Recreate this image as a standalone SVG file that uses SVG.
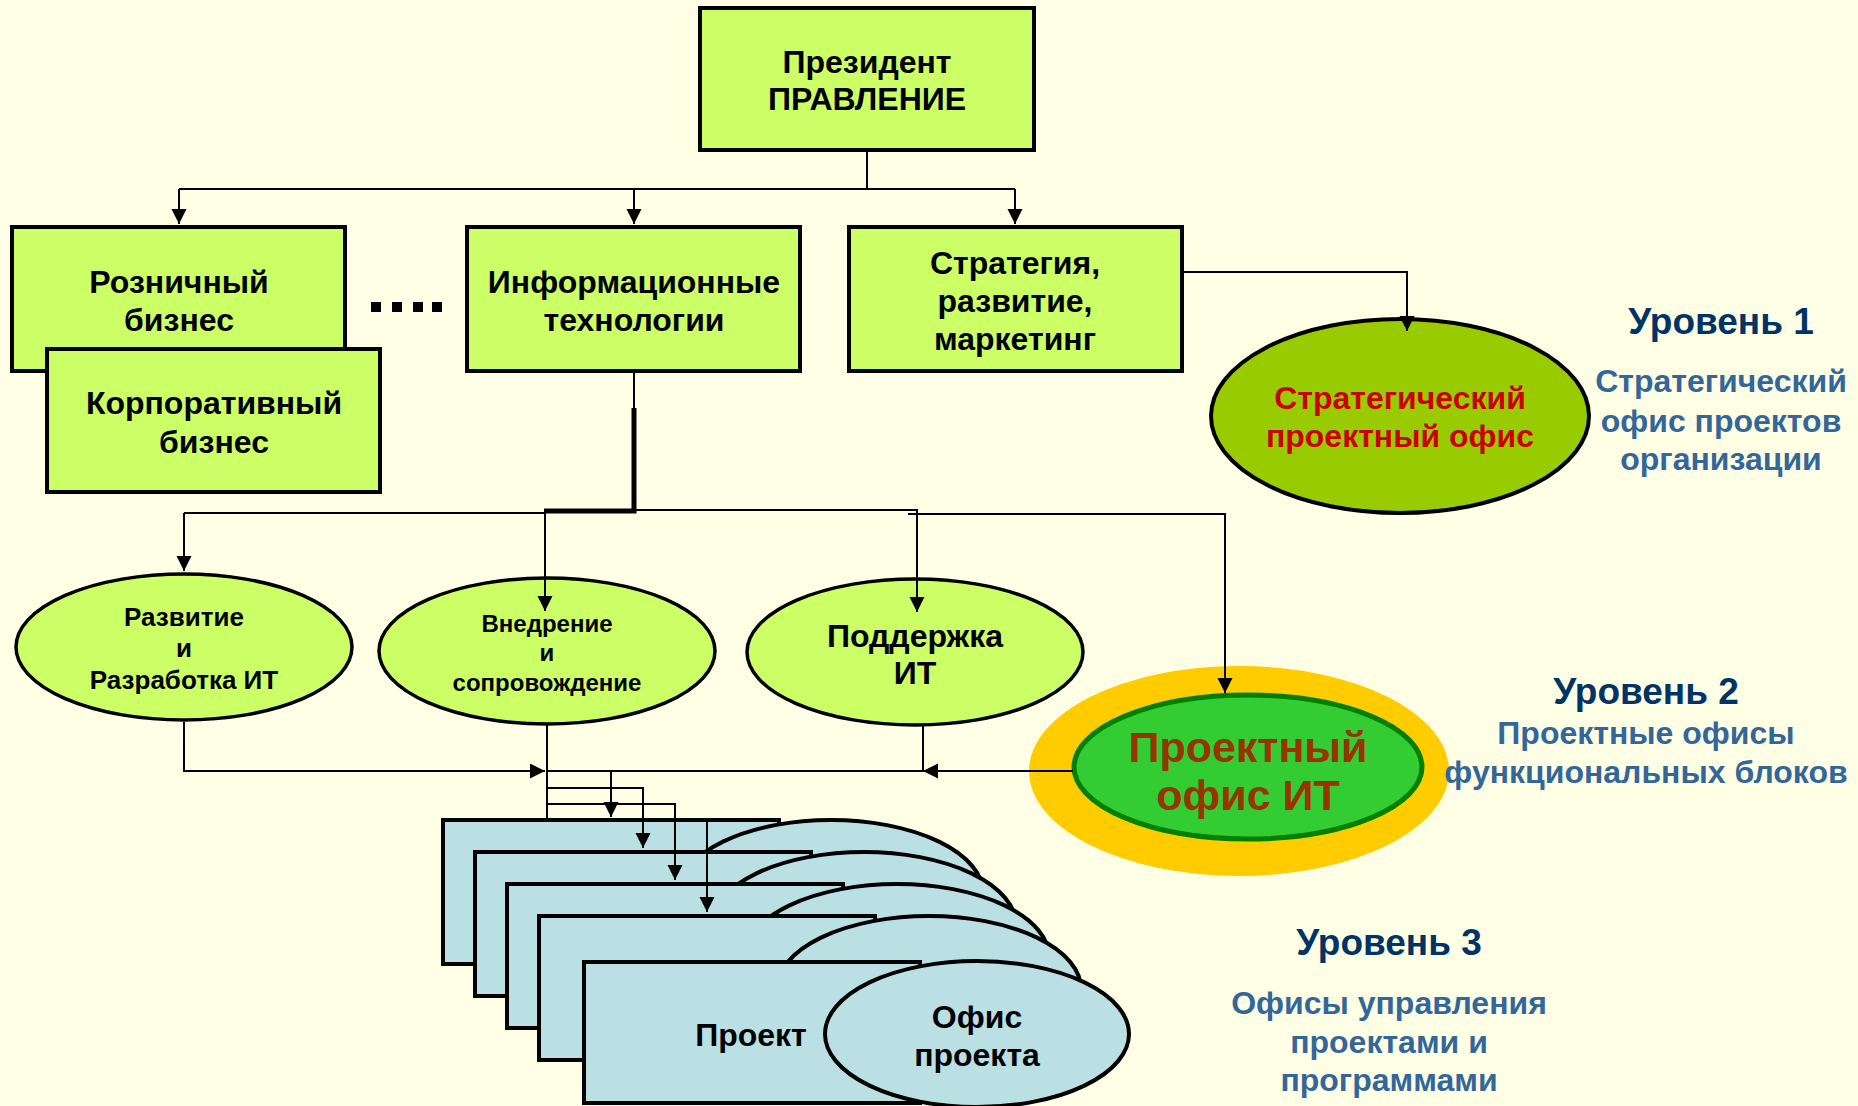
<svg xmlns="http://www.w3.org/2000/svg" width="1858" height="1106" viewBox="0 0 1858 1106">
<defs>
<style>
text{font-family:"Liberation Sans",Arial,sans-serif;font-weight:bold;text-anchor:middle}
.box{fill:#ccff66;stroke:#000;stroke-width:4}
.ell{fill:#ccff66;stroke:#000;stroke-width:3.5}
.card{fill:#bbe0e3;stroke:#000;stroke-width:4}
.bt{font-size:32px;fill:#000}
.lv{font-size:37px;fill:#003366}
.ds{font-size:32px;fill:#336699}
.c{fill:none;stroke:#000;stroke-width:2}
.ca{fill:none;stroke:#000;stroke-width:2;marker-end:url(#ah)}
</style>
<marker id="ah" markerUnits="userSpaceOnUse" markerWidth="16" markerHeight="16" refX="15" refY="7.5" orient="auto">
<path d="M0,0 L15,7.5 L0,15 z" fill="#000"/>
</marker>
</defs>
<rect x="0" y="0" width="1858" height="1106" fill="#ffffe6"/>

<g id="president">
<rect class="box" x="700" y="8" width="334" height="142"/>
<text class="bt" x="867" y="73">Президент</text>
<text class="bt" x="867" y="110">ПРАВЛЕНИЕ</text>
</g>

<g id="retail">
<rect class="box" x="12" y="227" width="333" height="144"/>
<text class="bt" x="179" y="293">Розничный</text>
<text class="bt" x="179" y="331">бизнес</text>
</g>

<g id="corporate">
<rect class="box" x="47" y="349" width="333" height="143"/>
<text class="bt" x="214" y="414">Корпоративный</text>
<text class="bt" x="214" y="453">бизнес</text>
</g>

<g id="dots" fill="#000">
<rect x="371" y="302" width="10" height="10"/>
<rect x="392" y="302" width="10" height="10"/>
<rect x="413" y="302" width="10" height="10"/>
<rect x="432" y="302" width="10" height="10"/>
</g>

<g id="it">
<rect class="box" x="467" y="227" width="333" height="144"/>
<text class="bt" x="634" y="293">Информационные</text>
<text class="bt" x="634" y="331">технологии</text>
</g>

<g id="strategy">
<rect class="box" x="849" y="227" width="333" height="144"/>
<text class="bt" x="1015" y="274">Стратегия,</text>
<text class="bt" x="1015" y="312">развитие,</text>
<text class="bt" x="1015" y="350">маркетинг</text>
</g>

<g id="strategic-office">
<ellipse cx="1400" cy="416" rx="189" ry="97" fill="#99cc00" stroke="#000" stroke-width="4"/>
<text x="1400" y="409" font-size="32" fill="#cc0000">Стратегический</text>
<text x="1400" y="447" font-size="32" fill="#cc0000">проектный офис</text>
</g>

<g id="dev">
<ellipse class="ell" cx="184" cy="647" rx="168" ry="73"/>
<text x="184" y="626" font-size="26">Развитие</text>
<text x="184" y="657" font-size="26">и</text>
<text x="184" y="689" font-size="26">Разработка ИТ</text>
</g>

<g id="impl">
<ellipse class="ell" cx="547" cy="651" rx="168" ry="73"/>
<text x="547" y="632" font-size="24">Внедрение</text>
<text x="547" y="661" font-size="24">и</text>
<text x="547" y="691" font-size="24">сопровождение</text>
</g>

<g id="support">
<ellipse class="ell" cx="915" cy="652" rx="168" ry="73"/>
<text x="915" y="647" font-size="32">Поддержка</text>
<text x="915" y="684" font-size="32">ИТ</text>
</g>

<g id="it-office">
<ellipse cx="1239" cy="771" rx="210" ry="105" fill="#ffcc00"/>
<ellipse cx="1248" cy="767" rx="174" ry="72" fill="#33cc33" stroke="#008000" stroke-width="5"/>
<text x="1248" y="762" font-size="43" fill="#993300">Проектный</text>
<text x="1248" y="810" font-size="43" fill="#993300">офис ИТ</text>
</g>

<g id="projects">
<rect class="card" x="443" y="820" width="336" height="144"/>
<ellipse class="card" cx="831" cy="893" rx="152" ry="73"/>
<rect class="card" x="475" y="852" width="336" height="144"/>
<ellipse class="card" cx="864" cy="925" rx="152" ry="73"/>
<rect class="card" x="507" y="884" width="336" height="144"/>
<ellipse class="card" cx="897" cy="957" rx="152" ry="73"/>
<rect class="card" x="539" y="916" width="336" height="144"/>
<ellipse class="card" cx="929" cy="989" rx="152" ry="73"/>
<rect class="card" x="584" y="962" width="336" height="141"/>
<ellipse class="card" cx="977" cy="1034" rx="152" ry="73"/>
<text x="751" y="1046" font-size="32">Проект</text>
<text x="977" y="1028" font-size="32">Офис</text>
<text x="977" y="1066" font-size="32">проекта</text>
</g>

<g id="levels">
<text class="lv" x="1721" y="334">Уровень 1</text>
<text class="ds" x="1721" y="392">Стратегический</text>
<text class="ds" x="1721" y="432">офис проектов</text>
<text class="ds" x="1721" y="470">организации</text>
<text class="lv" x="1646" y="704">Уровень 2</text>
<text class="ds" x="1646" y="744">Проектные офисы</text>
<text class="ds" x="1646" y="783">функциональных блоков</text>
<text class="lv" x="1389" y="955">Уровень 3</text>
<text class="ds" x="1389" y="1014">Офисы управления</text>
<text class="ds" x="1389" y="1053">проектами и</text>
<text class="ds" x="1389" y="1091">программами</text>
</g>

<g id="connectors">
<path class="c" d="M867,152 V189 M179,189 H1015"/>
<path class="ca" d="M179,189 V224"/>
<path class="ca" d="M634,189 V224"/>
<path class="ca" d="M1015,189 V224"/>
<path class="ca" d="M1183,272 H1407 V331"/>
<path class="c" d="M634,372 V410"/>
<path d="M634,408 V511 H544" fill="none" stroke="#000" stroke-width="5"/>
<path class="c" d="M184,513 H546"/>
<path class="ca" d="M184,513 V571"/>
<path class="ca" d="M545,511 V611"/>
<path class="ca" d="M634,510 H917 V612"/>
<path class="ca" d="M908,514 H1225 V693"/>
<path class="ca" d="M184,722 V771 H545"/>
<path class="c" d="M547,724 V819"/>
<path class="c" d="M923,725 V771 H547"/>
<path class="ca" d="M1073,771 H923"/>
<path class="ca" d="M611,771 V817"/>
<path class="ca" d="M547,788 H643 V848"/>
<path class="ca" d="M547,804 H675 V880"/>
<path class="ca" d="M707,821 V912"/>
</g>
</svg>
